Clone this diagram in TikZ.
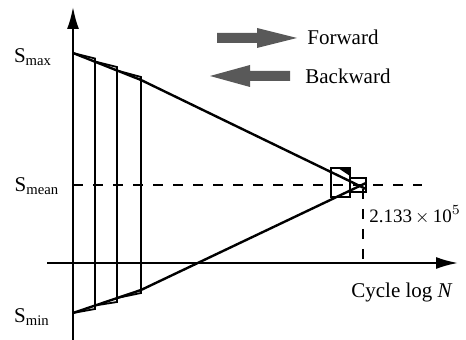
\documentclass[tikz,border=0pt]{standalone}
\usepackage{amsmath}
\usepackage{fontspec}
\setmainfont{Liberation Serif}
\usetikzlibrary{arrows.meta}

\begin{document}
\begin{tikzpicture}[x=0.5pt,y=-0.5pt]

		\tikzset{
			axis/.style={
				line width=1pt,
				-{Latex[length=11pt,width=6pt]}
			},
			envelope/.style={line width=1.2pt},
			block/.style={line width=0.9pt,line join=miter},
			guide/.style={line width=0.9pt,dash pattern=on 5pt off 5pt},
			label/.style={font=\fontsize{10.5}{12}\selectfont,inner sep=0pt},
			legendarrow/.style={fill=black!65,draw=none}
		}

		\useasboundingbox (0,0) rectangle (466,340);

		% axes
		\coordinate (ybot) at (73,340);
		\coordinate (ytop) at (73,7);
		\coordinate (xleft) at (47,263);
		\coordinate (xright) at (458,263);
		\draw[axis] (ybot)--(ytop);
		\draw[axis] (xleft)--(xright);

		% envelopes of the stress amplitude
		\coordinate (smax) at (73,53);
		\coordinate (ubend) at (141,80);
		\coordinate (uend) at (366,189);
		\coordinate (smin) at (73,313);
		\coordinate (lbend) at (141,290);
		\coordinate (lend) at (366,183);
		\draw[envelope] (smax)--(ubend)--(uend);
		\draw[envelope] (smin)--(lbend)--(lend);

		% loading blocks
		\foreach \xa/\ya/\xb/\yb/\yc/\yd in {
			73/53/95/58.5/309/313,
			95/61.5/117/67/302/305.5,
			117/70.5/141/77/293/298,
			331/168/350/168/197/197,
			350/178/366/178/192/192}
			\draw[block] (\xa,\ya)--(\xb,\yb)--(\xb,\yc)--(\xa,\yd)--cycle;
		\fill (338,168)--(350,168)--(350,176)--cycle;

		% mean stress and life
		\coordinate (mean) at (73,185);
		\coordinate (meanend) at (422,185);
		\coordinate (life) at (363,189);
		\coordinate (lifeaxis) at (363,263);
		\draw[guide] (mean)--(meanend);
		\draw[guide] (life)--(lifeaxis);

		\node[label] (lmax) at (33,57) {S$_\text{max}$};
		\node[label] (lmean) at (37,186) {S$_\text{mean}$};
		\node[label] (lmin) at (32,317) {S$_\text{min}$};
		\node[label] (lcycle) at (402,292) {Cycle log \textit{N}};
		\node[label,font=\fontsize{9.5}{11}\selectfont] (lnf) at (415,215) {2.133\,$\times$\,10$^{5}$};

		% legend
		\node[label,anchor=west] (fwd) at (307,37) {Forward};
		\node[label,anchor=west] (bwd) at (305,76) {Backward};
		\fill[legendarrow] (217,33)--(257,33)--(257,28)--(297,38)--(257,48)--(257,43)--(217,43)--cycle;
		\fill[legendarrow] (290,71)--(250,71)--(250,65)--(210,76)--(250,87)--(250,81)--(290,81)--cycle;

	\end{tikzpicture}
\end{document}
